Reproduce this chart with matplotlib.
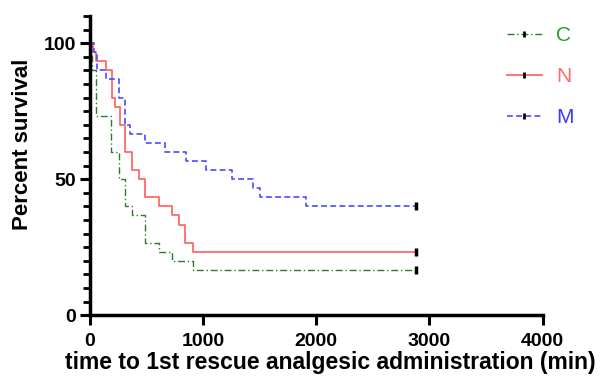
import matplotlib
matplotlib.use("Agg")
import matplotlib.pyplot as plt
from matplotlib.lines import Line2D
from matplotlib.ticker import MultipleLocator

plt.rcParams['font.family'] = ['Liberation Sans', 'DejaVu Sans']

# --- Kaplan-Meier step data ---
groups = ["C", "N", "M"]
c_time = [0, 15, 55, 190, 260, 310, 370, 490, 610, 730, 910]
c_surv = [100, 90, 73.3, 60, 50, 40, 36.7, 26.7, 23.3, 20, 16.7]
n_time = [0, 30, 50, 140, 195, 220, 265, 310, 370, 435, 490, 610, 730, 785, 840, 910]
n_surv = [100, 96.7, 93.3, 90, 80, 76.7, 70, 60, 53.3, 50, 43.3, 40, 36.7, 33.3, 26.7, 23.3]
m_time = [0, 40, 65, 145, 255, 310, 355, 485, 660, 845, 1025, 1260, 1440, 1500, 1910]
m_surv = [100, 96.7, 90, 86.7, 80, 70, 66.7, 63.3, 60, 56.7, 53.3, 50, 46.7, 43.3, 40]
end_time = 2880

x_ticks = [0, 1000, 2000, 3000, 4000]
y_ticks = [0, 50, 100]

colors = {"C": "#2f7a2f", "N": "#ff5c5c", "M": "#4a4aff"}
text_colors = {"C": "#2a9a2a", "N": "#ff6b6b", "M": "#3a3aff"}
styles = {"C": dict(linestyle=(0, (5, 2, 1, 2)), lw=1.0),
          "N": dict(linestyle="-", lw=1.2),
          "M": dict(linestyle=(0, (3.5, 2)), lw=1.2)}

fig = plt.figure(figsize=(6.03, 3.82), dpi=100)
ax = fig.add_axes([0.149, 0.175, 0.751, 0.783])

handles = []
for g, t, s in zip(groups, [c_time, n_time, m_time], [c_surv, n_surv, m_surv]):
    tt = t + [end_time]
    ss = s + [s[-1]]
    ax.step(tt, ss, where="post", color=colors[g], **styles[g])
    # censor mark at end of follow-up
    ax.plot([end_time], [s[-1]], marker="|", color="black", ms=6, mew=2.5,
            linestyle="none")
    handles.append(Line2D([0], [0], color=colors[g], marker="|", mec="black",
                          ms=5, mew=2, **styles[g]))

ax.set_xlim(0, 4000)
ax.set_ylim(0, 110)
ax.set_xticks(x_ticks)
ax.set_yticks(y_ticks)
ax.yaxis.set_minor_locator(MultipleLocator(5))

for side in ["top", "right"]:
    ax.spines[side].set_visible(False)
for side in ["left", "bottom"]:
    ax.spines[side].set_linewidth(2.5)

ax.tick_params(axis="both", which="major", length=7, width=2.2,
               labelsize=14, direction="out", pad=3)
ax.tick_params(axis="x", which="major", pad=6)
ax.tick_params(axis="y", which="minor", length=5, width=2.0, direction="out")
for lbl in ax.get_xticklabels() + ax.get_yticklabels():
    lbl.set_fontweight("bold")

ax.set_xlabel("time to 1st rescue analgesic administration (min)",
              fontsize=16.5, fontweight="bold")
ax.xaxis.set_label_coords(0.53, -0.12)
ax.set_ylabel("Percent survival", fontsize=16, fontweight="bold")
ax.yaxis.set_label_coords(-0.125, 0.57)

leg = fig.legend(handles, groups, loc="upper left",
                 bbox_to_anchor=(0.81, 0.98), frameon=False,
                 handlelength=1.65, handletextpad=0.7, labelspacing=1.05,
                 fontsize=15, numpoints=1)
for txt, g in zip(leg.get_texts(), groups):
    txt.set_color(text_colors[g])

fig.savefig("out.png", dpi=100)
